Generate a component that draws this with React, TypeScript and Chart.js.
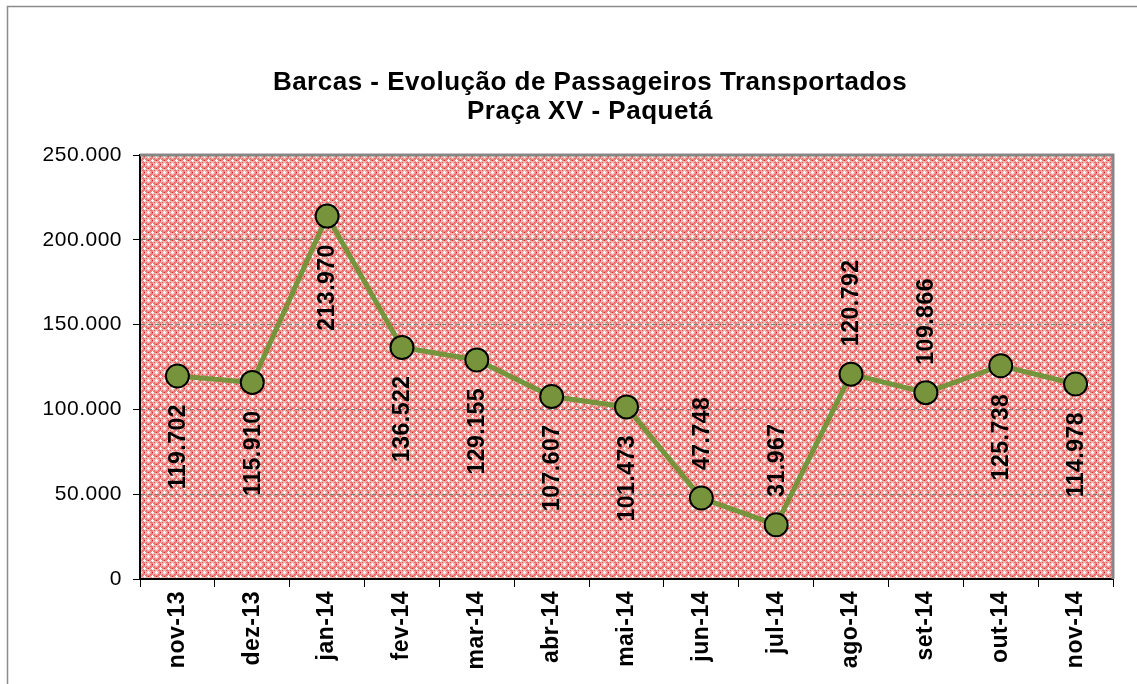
import React, { useEffect, useRef } from "react";
import { Chart, registerables } from "chart.js";

Chart.register(...registerables);

const categories = ["nov-13", "dez-13", "jan-14", "fev-14", "mar-14", "abr-14", "mai-14", "jun-14", "jul-14", "ago-14", "set-14", "out-14", "nov-14"];
const passengers = [119702, 115910, 213970, 136522, 129155, 107607, 101473, 47748, 31967, 120792, 109866, 125738, 114978];
const labelPlacement = ["below", "below", "below", "below", "below", "below", "below", "above", "above", "above", "above", "below", "below"];
const titleLines = ["Barcas - Evolução de Passageiros Transportados", "Praça XV - Paquetá"];
const yTicks = [0, 50000, 100000, 150000, 200000, 250000];

const FONT = "'Liberation Sans', Arial, sans-serif";

function fmt(v: number): string {
  return String(v).replace(/\B(?=(\d{3})+(?!\d))/g, ".");
}

function makePattern(ctx: CanvasRenderingContext2D): CanvasPattern | string {
  const t = document.createElement("canvas");
  t.width = 8;
  t.height = 8;
  const c = t.getContext("2d");
  if (!c) return "#eba39c";
  c.fillStyle = "#e6847c";
  c.fillRect(0, 0, 8, 8);
  c.fillStyle = "#f0b3ad";
  c.fillRect(1, 1, 6, 6);
  c.fillStyle = "#ffffff";
  const plus = (x: number, y: number) => {
    c.fillRect(x - 1, y, 3, 1);
    c.fillRect(x, y - 1, 1, 3);
  };
  plus(0, 0); plus(8, 0); plus(0, 8); plus(8, 8);
  plus(4, 4);
  c.fillStyle = "#d6241d";
  c.fillRect(4, 0, 1, 1);
  c.fillRect(0, 4, 1, 1);
  c.fillStyle = "#e2635b";
  c.fillRect(2, 2, 1, 1);
  c.fillRect(6, 6, 1, 1);
  c.fillRect(6, 2, 1, 1);
  c.fillRect(2, 6, 1, 1);
  return ctx.createPattern(t, "repeat") || "#eba39c";
}

const SPACING = "0.5px";

const decorPlugin = {
  id: "decor",
  beforeUpdate(chart: any) {
    chart.ctx.letterSpacing = SPACING;
  },
  beforeDraw(chart: any) {
    const { ctx, chartArea } = chart;
    ctx.letterSpacing = SPACING;
    ctx.save();
    ctx.fillStyle = "#ffffff";
    ctx.fillRect(0, 0, chart.width, chart.height);
    ctx.strokeStyle = "#8c8c8c";
    ctx.lineWidth = 1.5;
    ctx.strokeRect(7.5, 6.5, chart.width + 50, chart.height + 50);
    ctx.fillStyle = makePattern(ctx);
    ctx.fillRect(chartArea.left, chartArea.top, chartArea.right - chartArea.left, chartArea.bottom - chartArea.top);
    ctx.restore();
  },
  afterDraw(chart: any) {
    const { ctx, chartArea } = chart;
    ctx.save();
    ctx.strokeStyle = "#868686";
    ctx.lineWidth = 3;
    ctx.beginPath();
    ctx.moveTo(chartArea.left, chartArea.top);
    ctx.lineTo(chartArea.right, chartArea.top);
    ctx.lineTo(chartArea.right, chartArea.bottom);
    ctx.stroke();
    ctx.fillStyle = "#000";
    ctx.letterSpacing = SPACING;
    ctx.font = `bold 26px ${FONT}`;
    ctx.textAlign = "center";
    ctx.textBaseline = "middle";
    ctx.fillText(titleLines[0], 590, 83);
    ctx.fillText(titleLines[1], 590, 112);
    ctx.restore();
  },
  afterDatasetsDraw(chart: any) {
    const { ctx } = chart;
    const meta = chart.getDatasetMeta(0);
    ctx.save();
    ctx.fillStyle = "#000";
    ctx.letterSpacing = SPACING;
    ctx.font = `bold 23px ${FONT}`;
    ctx.textBaseline = "middle";
    meta.data.forEach((pt: any, i: number) => {
      const below = labelPlacement[i] === "below";
      ctx.save();
      ctx.translate(pt.x, below ? pt.y + 28 : pt.y - 28);
      ctx.rotate(-Math.PI / 2);
      ctx.textAlign = below ? "right" : "left";
      ctx.fillText(fmt(passengers[i]), 0, 1);
      ctx.restore();
    });
    ctx.restore();
  },
};

export default function App() {
  const ref = useRef<HTMLCanvasElement | null>(null);
  useEffect(() => {
    if (!ref.current) return;
    const chart = new Chart(ref.current, {
      type: "line",
      data: {
        labels: categories,
        datasets: [
          {
            data: passengers,
            borderColor: "#77933c",
            borderWidth: 5,
            backgroundColor: "#77933c",
            pointBackgroundColor: "#77933c",
            pointBorderColor: "#000",
            pointBorderWidth: 2,
            pointRadius: 11.5,
            pointHoverRadius: 11.5,
            tension: 0,
          },
        ],
      },
      options: {
        animation: false,
        responsive: false,
        events: [],
        layout: { padding: { left: 0, top: 155, right: 24, bottom: 0 } },
        plugins: { legend: { display: false }, tooltip: { enabled: false }, title: { display: false } },
        scales: {
          x: {
            offset: true,
            afterFit: (s: any) => { s.height = 105; },
            grid: {
              offset: true,
              drawOnChartArea: false,
              drawTicks: true,
              tickLength: 8,
              tickColor: "#000",
              tickWidth: 1,
              tickBorderDash: [],
            },
            border: { color: "#000", width: 2 },
            ticks: {
              autoSkip: false,
              maxRotation: 90,
              minRotation: 90,
              padding: 4,
              color: "#000",
              font: { family: FONT, size: 23, weight: "bold" },
            },
          },
          y: {
            min: 0,
            max: 250000,
            afterFit: (s: any) => { s.width = 140; },
            afterBuildTicks: (s: any) => { s.ticks = yTicks.map((v) => ({ value: v })); },
            grid: {
              color: (c: any) => (c.tick && (c.tick.value === 0 || c.tick.value === 250000) ? "rgba(0,0,0,0)" : "#7f7f7f"),
              lineWidth: 1,
              tickLength: 7,
              tickColor: "#000",
              tickWidth: 1,
              tickBorderDash: [],
            },
            border: { color: "#000", width: 2, dash: [4, 3] },
            ticks: {
              padding: 11,
              color: "#000",
              font: { family: FONT, size: 21 },
              callback: (v: any) => fmt(Number(v)),
            },
          },
        },
      },
      plugins: [decorPlugin],
    });
    return () => chart.destroy();
  }, []);
  return (
    <div style={{ position: "fixed", left: 0, top: 0, width: 1137, height: 684, overflow: "hidden", background: "#fff" }}>
      <canvas ref={ref} width={1137} height={684} style={{ display: "block" }} />
    </div>
  );
}
